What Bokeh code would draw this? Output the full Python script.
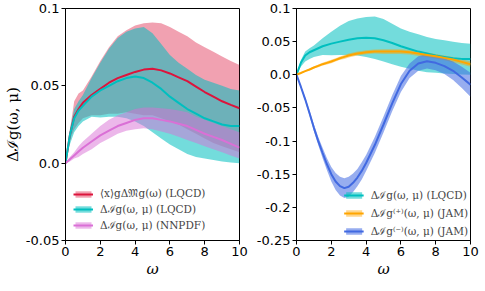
from bokeh.plotting import figure
from bokeh.layouts import row
from bokeh.models import FixedTicker, Legend, LegendItem
from bokeh.embed import file_html
from bokeh.resources import INLINE

# ---------------- data ----------------
omega = [0, 0.25, 0.5, 0.75, 1, 1.5, 2, 2.5, 3, 3.5, 4, 4.5, 5, 5.5, 6, 6.5, 7,
         7.5, 8, 8.5, 9, 9.5, 10]

# <x>_g ΔM_g(ω) (LQCD)
m_lqcd = [0, 0.018, 0.030, 0.035, 0.039, 0.044, 0.048, 0.052, 0.055, 0.057, 0.059,
          0.0605, 0.061, 0.060, 0.058, 0.0555, 0.053, 0.0495, 0.046, 0.043, 0.040,
          0.0377, 0.0355]
m_lqcd_hi = [0, 0.021, 0.040, 0.045, 0.047, 0.056, 0.066, 0.075, 0.082, 0.086, 0.089,
             0.0905, 0.091, 0.0905, 0.088, 0.085, 0.082, 0.078, 0.075, 0.072, 0.069,
             0.066, 0.0635]
m_lqcd_lo = [0, 0.015, 0.022, 0.026, 0.029, 0.031, 0.031, 0.032, 0.032, 0.033, 0.032,
             0.031, 0.031, 0.029, 0.027, 0.025, 0.022, 0.019, 0.016, 0.013, 0.011,
             0.009, 0.007]

# ΔI_g(ω, μ) (LQCD)
i_lqcd = [0, 0.018, 0.029, 0.034, 0.037, 0.043, 0.047, 0.050, 0.053, 0.055, 0.056,
          0.055, 0.052, 0.048, 0.043, 0.039, 0.035, 0.032, 0.029, 0.027, 0.025,
          0.024, 0.024]
i_lqcd_hi = [0, 0.022, 0.035, 0.040, 0.044, 0.055, 0.065, 0.074, 0.081, 0.085, 0.087,
             0.088, 0.084, 0.077, 0.070, 0.065, 0.061, 0.057, 0.054, 0.052, 0.050,
             0.048, 0.047]
i_lqcd_lo = [0, 0.012, 0.020, 0.024, 0.027, 0.030, 0.0295, 0.030, 0.030, 0.029, 0.027,
             0.024, 0.020, 0.016, 0.012, 0.009, 0.006, 0.004, 0.003, 0.002, 0.001,
             0.0005, 0.0]

# ΔI_g(ω, μ) (NNPDF)
i_nnpdf = [0, 0.0025, 0.005, 0.0075, 0.010, 0.014, 0.018, 0.021, 0.024, 0.026, 0.028,
           0.029, 0.029, 0.028, 0.027, 0.0255, 0.024, 0.0215, 0.019, 0.017, 0.015,
           0.0125, 0.010]
i_nnpdf_hi = [0, 0.004, 0.007, 0.011, 0.014, 0.019, 0.024, 0.028, 0.031, 0.033, 0.035,
              0.036, 0.036, 0.0355, 0.035, 0.034, 0.033, 0.030, 0.028, 0.026, 0.024,
              0.022, 0.020]
i_nnpdf_lo = [0, 0.001, 0.003, 0.004, 0.006, 0.009, 0.013, 0.016, 0.019, 0.021, 0.022,
              0.0225, 0.022, 0.0205, 0.019, 0.017, 0.015, 0.013, 0.011, 0.009, 0.007,
              0.005, 0.003]

omega_jam = [0, 0.25, 0.5, 0.75, 1, 1.25, 1.5, 1.75, 2, 2.25, 2.5, 2.75, 3, 3.25, 3.5,
             3.75, 4, 4.5, 5, 5.5, 6, 6.5, 7, 7.5, 8, 8.5, 9, 9.5, 10]

# ΔI_g^(+)(ω, μ) (JAM)
jam_p = [0, 0.0027, 0.0055, 0.008, 0.011, 0.0135, 0.016, 0.018, 0.020, 0.0225, 0.025,
         0.027, 0.029, 0.0305, 0.032, 0.033, 0.034, 0.035, 0.035, 0.035, 0.035, 0.034,
         0.032, 0.030, 0.028, 0.0255, 0.023, 0.0195, 0.016]
jam_p_hi = [0, 0.0035, 0.0065, 0.0095, 0.0125, 0.0155, 0.018, 0.0205, 0.0225, 0.025,
            0.0275, 0.030, 0.032, 0.0335, 0.035, 0.036, 0.037, 0.038, 0.0385, 0.0385,
            0.0385, 0.0375, 0.0355, 0.0335, 0.0315, 0.029, 0.027, 0.0235, 0.020]
jam_p_lo = [0, 0.0019, 0.0045, 0.0065, 0.0095, 0.0115, 0.014, 0.0155, 0.0175, 0.020,
            0.0225, 0.024, 0.026, 0.0275, 0.029, 0.030, 0.031, 0.032, 0.0315, 0.0315,
            0.0315, 0.0305, 0.0285, 0.0265, 0.0245, 0.022, 0.019, 0.0155, 0.012]

# ΔI_g^(-)(ω, μ) (JAM)
jam_m = [0, -0.018, -0.037, -0.058, -0.080, -0.100, -0.118, -0.135, -0.150, -0.161,
         -0.168, -0.171, -0.169, -0.163, -0.155, -0.145, -0.133, -0.106, -0.075,
         -0.043, -0.014, 0.006, 0.017, 0.0205, 0.018, 0.013, 0.006, -0.004, -0.015]
jam_m_hi = [0, -0.016, -0.034, -0.054, -0.075, -0.094, -0.110, -0.126, -0.139, -0.148,
            -0.154, -0.156, -0.154, -0.149, -0.142, -0.132, -0.121, -0.094, -0.063,
            -0.031, -0.002, 0.017, 0.028, 0.0315, 0.029, 0.025, 0.020, 0.012, 0.003]
jam_m_lo = [0, -0.020, -0.040, -0.062, -0.085, -0.106, -0.126, -0.144, -0.161, -0.174,
            -0.182, -0.186, -0.184, -0.177, -0.168, -0.158, -0.145, -0.118, -0.087,
            -0.055, -0.026, -0.005, 0.006, 0.0095, 0.007, 0.001, -0.008, -0.020, -0.033]

x_ticks = [0, 2, 4, 6, 8, 10]
left_yticks = [-0.05, 0.0, 0.05, 0.1]
left_ylabels = ["-0.05", "0.0", "0.05", "0.1"]
right_yticks = [-0.25, -0.2, -0.15, -0.1, -0.05, 0.0, 0.05, 0.1]
right_ylabels = ["-0.25", "-0.2", "-0.15", "-0.1", "-0.05", "0.0", "0.05", "0.1"]

labels_left = ["\u27e8x\u27e9g\u0394\U0001D510g(\u03c9) (LQCD)",
               "\u0394\u2110g(\u03c9, \u03bc) (LQCD)",
               "\u0394\u2110g(\u03c9, \u03bc) (NNPDF)"]
labels_right = ["\u0394\u2110g(\u03c9, \u03bc) (LQCD)",
                "\u0394\u2110g\u207d\u207a\u207e(\u03c9, \u03bc) (JAM)",
                "\u0394\u2110g\u207d\u207b\u207e(\u03c9, \u03bc) (JAM)"]

RED, TEAL, ORCHID, ORANGE, BLUE = "#DC143C", "#00BFBF", "#DA70D6", "#FFA500", "#4169E1"
TICK_FONT = "DejaVu Sans"
SERIF = "DejaVu Serif"


def make_fig(yr, yticks, ylabels, lb, rb, ylabel):
    p = figure(frame_width=174, frame_height=232, x_range=(0, 10), y_range=yr,
               output_backend="svg", toolbar_location=None,
               min_border_left=lb, min_border_right=rb, min_border_top=8,
               min_border_bottom=35)
    p.xgrid.visible = False
    p.ygrid.visible = False
    p.outline_line_color = "black"
    p.outline_line_width = 1
    p.xaxis.ticker = FixedTicker(ticks=x_ticks)
    p.yaxis.ticker = FixedTicker(ticks=yticks)
    p.yaxis.major_label_overrides = {t: l for t, l in zip(yticks, ylabels)}
    for ax in (p.xaxis[0], p.yaxis[0]):
        ax.axis_line_color = "black"
        ax.major_tick_line_color = "black"
        ax.major_tick_out = 4
        ax.major_tick_in = 0
        ax.minor_tick_line_color = None
        ax.major_label_text_font = TICK_FONT
        ax.major_label_text_font_size = "13px"
        ax.major_label_text_color = "black"
        ax.major_label_standoff = 2
        ax.axis_label_text_font = SERIF
        ax.axis_label_text_font_size = "15px"
        ax.axis_label_text_font_style = "italic"
        ax.axis_label_text_color = "black"
        ax.axis_label_standoff = 1
    p.xaxis.axis_label = "\u03c9"
    if ylabel:
        p.yaxis.axis_label = ylabel
        p.yaxis.axis_label_text_font_style = "normal"
    return p


def add_series(p, specs):
    # all bands first, then all lines on top
    areas = [p.varea(x=x, y1=lo, y2=hi, fill_color=c, fill_alpha=a)
             for (x, lo, hi, mid, c, a) in specs]
    lines = [p.line(x=x, y=mid, line_color=c, line_width=2)
             for (x, lo, hi, mid, c, a) in specs]
    return [[ar, ln] for ar, ln in zip(areas, lines)]


# ---------------- left panel ----------------
p1 = make_fig((-0.05, 0.1), left_yticks, left_ylabels, 55, 10,
              "\u0394\u2110g(\u03c9, \u03bc)")
rl = add_series(p1, [(omega, m_lqcd_lo, m_lqcd_hi, m_lqcd, RED, 0.4),
                     (omega, i_lqcd_lo, i_lqcd_hi, i_lqcd, TEAL, 0.55),
                     (omega, i_nnpdf_lo, i_nnpdf_hi, i_nnpdf, ORCHID, 0.5)])
leg1 = Legend(items=[LegendItem(label=lab, renderers=r) for lab, r in zip(labels_left, rl)],
              location="bottom_left")
p1.add_layout(leg1)

# ---------------- right panel ----------------
p2 = make_fig((-0.25, 0.1), right_yticks, right_ylabels, 47, 9, None)
rr = add_series(p2, [(omega, i_lqcd_lo, i_lqcd_hi, i_lqcd, TEAL, 0.55),
                     (omega_jam, jam_p_lo, jam_p_hi, jam_p, ORANGE, 0.45),
                     (omega_jam, jam_m_lo, jam_m_hi, jam_m, BLUE, 0.55)])
leg2 = Legend(items=[LegendItem(label=lab, renderers=r) for lab, r in zip(labels_right, rr)],
              location="bottom_right")
p2.add_layout(leg2)

for lg, sp, mg, pd in ((leg1, 2, 3, 5), (leg2, 4, 0, 2)):
    lg.background_fill_alpha = 0
    lg.border_line_alpha = 0
    lg.label_text_font = SERIF
    lg.label_text_font_size = "10.5px"
    lg.glyph_width = 20
    lg.glyph_height = 8
    lg.label_height = 8
    lg.label_standoff = 7
    lg.spacing = sp
    lg.margin = mg
    lg.padding = pd

layout = row(p1, p2)
open("out.html", "w").write(file_html(layout, INLINE))
